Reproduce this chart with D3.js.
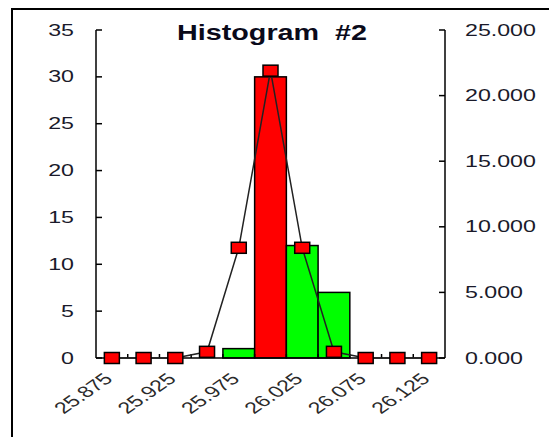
<!DOCTYPE html>
<html>
<head>
<meta charset="utf-8">
<script src="https://cdn.jsdelivr.net/npm/d3@7"></script>
<style>
  html, body { margin: 0; padding: 0; background: #fff; }
  svg { display: block; }
  text { font-family: "Liberation Sans", Arial, sans-serif; white-space: pre; }
</style>
</head>
<body>
<svg id="chart" width="549" height="437"></svg>
<script>
// Bin centres of the histogram (width 0.025)
const binCenters = [25.875, 25.9, 25.925, 25.95, 25.975, 26.0, 26.025, 26.05, 26.075, 26.1, 26.125];
// Observed counts per bin (left axis)
const counts = [0, 0, 0, 0, 1, 30, 12, 7, 0, 0, 0];
// Which bin is highlighted
const highlightBin = 26.0;
// Fitted density at each bin centre (right axis)
const density = [0, 0, 0, 0.47, 8.4, 21.9, 8.4, 0.47, 0, 0, 0];
// Tick labels
const leftTicks = [0, 5, 10, 15, 20, 25, 30, 35];
const rightTicks = [0, 5, 10, 15, 20, 25];
const xLabels = [25.875, 25.925, 25.975, 26.025, 26.075, 26.125];
const title = "Histogram\u00a0\u00a0#2";

const binWidth = 0.025;
const sx = 1.45; // horizontal stretch applied to lettering

const svg = d3.select("#chart");

// Outer frame
svg.append("rect")
  .attr("x", 12).attr("y", 9).attr("width", 600).attr("height", 500)
  .attr("fill", "none").attr("stroke", "#000").attr("stroke-width", 2);

const x = d3.scaleLinear()
  .domain([binCenters[0] - binWidth / 2, binCenters[binCenters.length - 1] + binWidth / 2])
  .range([96, 445]);
const yL = d3.scaleLinear().domain([0, 35]).range([358, 30]);
const yR = d3.scaleLinear().domain([0, 25]).range([358, 30]);

// Bars
const bins = binCenters.map((c, i) => ({ c, n: counts[i] })).filter(d => d.n > 0);
svg.append("g").selectAll("rect").data(bins).join("rect")
  .attr("x", d => x(d.c - binWidth / 2))
  .attr("y", d => yL(d.n))
  .attr("width", d => x(d.c + binWidth / 2) - x(d.c - binWidth / 2))
  .attr("height", d => yL(0) - yL(d.n))
  .attr("fill", d => d.c === highlightBin ? "#ff0000" : "#00ff00")
  .attr("stroke", "#000").attr("stroke-width", 1.5);

// Axes lines
const axisG = svg.append("g").attr("stroke", "#000").attr("stroke-width", 1.5).attr("fill", "none");
axisG.append("line").attr("x1", x.range()[0]).attr("x2", x.range()[0]).attr("y1", yL(35)).attr("y2", yL(0));
axisG.append("line").attr("x1", x.range()[1]).attr("x2", x.range()[1]).attr("y1", yR(25)).attr("y2", yR(0));
axisG.append("line").attr("x1", x.range()[0]).attr("x2", x.range()[1]).attr("y1", yL(0)).attr("y2", yL(0));

// Inward tick marks
axisG.selectAll(".tl").data(leftTicks).join("line")
  .attr("x1", x.range()[0]).attr("x2", x.range()[0] + 6)
  .attr("y1", d => yL(d)).attr("y2", d => yL(d));
axisG.selectAll(".tr").data(rightTicks).join("line")
  .attr("x1", x.range()[1] - 6).attr("x2", x.range()[1])
  .attr("y1", d => yR(d)).attr("y2", d => yR(d));
const edges = binCenters.slice(1).map(c => c - binWidth / 2);
axisG.selectAll(".tb").data(edges).join("line")
  .attr("x1", d => x(d)).attr("x2", d => x(d))
  .attr("y1", yL(0)).attr("y2", yL(0) - 4);

// Density line
const line = d3.line().x((d, i) => x(binCenters[i])).y(d => yR(d));
svg.append("path").datum(density)
  .attr("d", line)
  .attr("fill", "none").attr("stroke", "#222").attr("stroke-width", 1.5);

// Markers
svg.append("g").selectAll("rect").data(density).join("rect")
  .attr("x", (d, i) => x(binCenters[i]) - 7.5)
  .attr("y", d => yR(d) - 5.5)
  .attr("width", 15).attr("height", 11)
  .attr("fill", "#ff0000").attr("stroke", "#000").attr("stroke-width", 1.5);

// Stretched label helper
function label(g, tx, ty, txt, opts) {
  const gg = g.append("g").attr("transform", `translate(${tx},${ty}) scale(${opts.sx || sx},1)` + (opts.rot ? ` rotate(${opts.rot})` : ""));
  return gg.append("text")
    .attr("text-anchor", opts.anchor || "start")
    .attr("dy", opts.dy || "0")
    .attr("font-size", opts.size || 16)
    .attr("font-weight", opts.weight || "normal")
    .attr("fill", opts.fill || "#1a1a2a")
    .text(txt);
}

const labels = svg.append("g");
leftTicks.forEach(t => label(labels, 74, yL(t), String(t), { anchor: "end", dy: "0.35em" }));
rightTicks.forEach(t => label(labels, 465, yR(t), d3.format(".3f")(t), { anchor: "start", dy: "0.35em" }));
xLabels.forEach(t => label(labels, x(t) + 2, 380, d3.format(".3f")(t), { anchor: "end", rot: -45, fill: "#2a2a2a" }));

// Title, stretched to its width
const tg = svg.append("g");
const tt = tg.append("text").attr("text-anchor", "middle").attr("font-size", 22)
  .attr("font-weight", "bold").attr("fill", "#0a0a1a").text(title);
const w = tt.node().getComputedTextLength();
tg.attr("transform", `translate(272,40) scale(${190 / w},1)`);
</script>
</body>
</html>
